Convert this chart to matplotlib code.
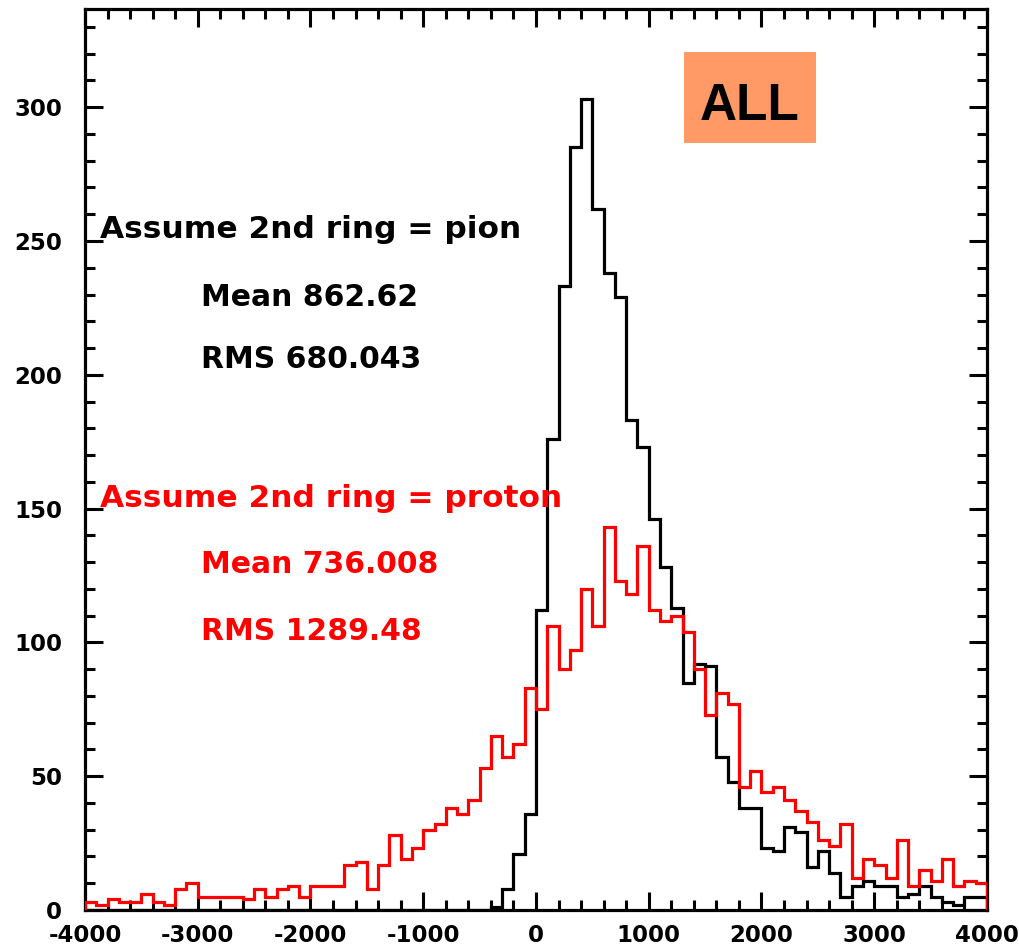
import numpy as np
import matplotlib
matplotlib.use("Agg")
import matplotlib.pyplot as plt
from matplotlib.ticker import MultipleLocator
from matplotlib.patches import Rectangle

plt.rcParams["axes.unicode_minus"] = False

# bin edges: 80 bins of width 100 from -4000 to 4000
bin_lo = -4000
bin_hi = 4000
n_bins = 80

# Assume 2nd ring = pion (black), bins -4000 .. 3900 (lower edges)
pion_counts = [
    0, 0, 0, 0, 0, 0, 0, 0, 0, 0,            # -4000 .. -3100
    0, 0, 0, 0, 0, 0, 0, 0, 0, 0,            # -3000 .. -2100
    0, 0, 0, 0, 0, 0, 0, 0, 0, 0,            # -2000 .. -1100
    0, 0, 0, 0, 0, 0, 1, 8, 21, 36,          # -1000 .. -100
    112, 176, 233, 285, 303, 262, 238, 229, 183, 173,  # 0 .. 900
    146, 128, 113, 85, 92, 91, 57, 48, 38, 38,         # 1000 .. 1900
    23, 22, 31, 29, 16, 22, 14, 5, 9, 11,              # 2000 .. 2900
    9, 9, 5, 6, 9, 5, 3, 2, 5, 5,                      # 3000 .. 3900
]

# Assume 2nd ring = proton (red)
proton_counts = [
    3, 2, 4, 3, 3, 6, 3, 2, 8, 10,           # -4000 .. -3100
    5, 5, 5, 5, 4, 8, 5, 8, 9, 5,            # -3000 .. -2100
    9, 9, 9, 17, 18, 8, 17, 28, 19, 23,      # -2000 .. -1100
    30, 32, 38, 36, 41, 53, 65, 57, 62, 83,  # -1000 .. -100
    75, 106, 90, 97, 120, 106, 143, 123, 118, 136,     # 0 .. 900
    112, 108, 110, 104, 90, 73, 81, 77, 46, 52,        # 1000 .. 1900
    44, 46, 41, 37, 33, 26, 24, 32, 12, 19,            # 2000 .. 2900
    17, 12, 26, 9, 15, 11, 19, 9, 11, 10,              # 3000 .. 3900
]

pion_label = "Assume 2nd ring = pion"
pion_stats = ["Mean 862.62", "RMS 680.043"]
proton_label = "Assume 2nd ring = proton"
proton_stats = ["Mean 736.008", "RMS 1289.48"]
tag_text = "ALL"

W, H = 1020, 946
fig = plt.figure(figsize=(W / 100, H / 100), dpi=100)
fig.patch.set_facecolor("white")
ax = fig.add_axes([85 / W, 1 - 910 / H, (987 - 85) / W, (910 - 9.5) / H])

edges = np.linspace(bin_lo, bin_hi, n_bins + 1)
ax.stairs(pion_counts, edges, color="black", lw=2.3, zorder=3)
ax.stairs(proton_counts, edges, color="#ff0000", lw=2.3, zorder=4)

ax.set_xlim(bin_lo, bin_hi)
ax.set_ylim(0, 336.5)

FONT = "DejaVu Sans"
ax.xaxis.set_major_locator(MultipleLocator(1000))
ax.xaxis.set_minor_locator(MultipleLocator(200))
ax.yaxis.set_major_locator(MultipleLocator(50))
ax.yaxis.set_minor_locator(MultipleLocator(10))
ax.tick_params(which="both", direction="in", top=True, right=True, width=2.2, color="black")
ax.tick_params(which="major", length=13)
ax.tick_params(which="minor", length=7)
ax.tick_params(axis="x", which="major", pad=10)
ax.tick_params(axis="y", which="major", pad=16.5)
for lab in ax.get_xticklabels() + ax.get_yticklabels():
    lab.set_fontfamily(FONT)
    lab.set_fontweight("bold")
    lab.set_fontsize(16.5)
for sp in ax.spines.values():
    sp.set_linewidth(2.3)

def fig_xy(px, py):
    return px / W, 1 - py / H

# texts
fs_head = 22.5
fs_stat = 21.5
x0, y0 = fig_xy(100, 238)
fig.text(x0, y0, pion_label, family=FONT, weight="bold", fontsize=fs_head, color="black", va="baseline", ha="left", zorder=5)
for s, py in zip(pion_stats, [306, 368]):
    x, y = fig_xy(201, py)
    fig.text(x, y, s, family=FONT, weight="bold", fontsize=fs_stat, color="black", va="baseline", ha="left")

x0, y0 = fig_xy(100, 507)
fig.text(x0, y0, proton_label, family=FONT, weight="bold", fontsize=fs_head, color="#ff0000", va="baseline", ha="left", zorder=5)
for s, py in zip(proton_stats, [573, 640]):
    x, y = fig_xy(201, py)
    fig.text(x, y, s, family=FONT, weight="bold", fontsize=fs_stat, color="#ff0000", va="baseline", ha="left")

# ALL tag box
bx0, by0 = fig_xy(684, 143)
bw = (816 - 684) / W
bh = (143 - 52) / H
fig.patches.append(Rectangle((bx0, by0), bw, bh, transform=fig.transFigure, facecolor="#ff9966", edgecolor="none", zorder=6))
tx, ty = fig_xy(750, 120.5)
fig.text(tx, ty, tag_text, family="Liberation Sans", weight="bold", fontsize=37, color="black", ha="center", va="baseline", zorder=7)

fig.savefig("out.png", dpi=100, facecolor="white")
